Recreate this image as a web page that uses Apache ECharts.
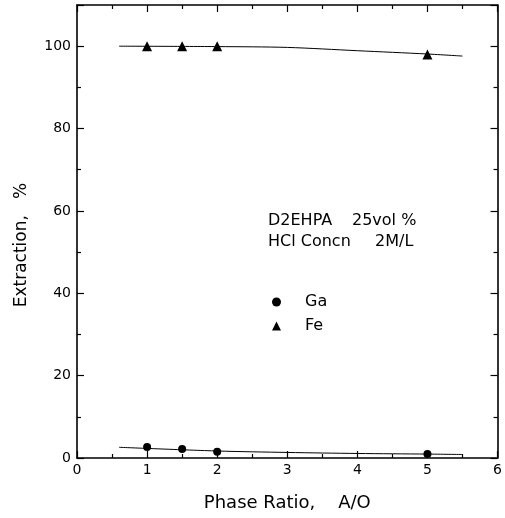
<!DOCTYPE html>
<html>
<head>
<meta charset="utf-8">
<script src="https://cdn.jsdelivr.net/npm/echarts@6/dist/echarts.min.js"></script>
<style>
html,body{margin:0;padding:0;background:#fff;}
#chart{width:505px;height:518px;}
</style>
</head>
<body>
<div id="chart"></div>
<script>
// Measured points
var gaX = [1, 1.5, 2, 5];
var gaY = [2.7, 2.2, 1.5, 1.0];
var feX = [1, 1.5, 2, 5];
var feY = [100, 100, 100, 98];
// Fitted curves
var fitX = [0.6, 2, 3, 4, 5, 5.5];
var gaFit = [2.6, 1.7, 1.35, 1.1, 0.95, 0.85];
var feFit = [100, 99.9, 99.7, 98.9, 98.1, 97.6];
// Axis settings
var xTicks = [0, 1, 2, 3, 4, 5, 6];
var yTicks = [0, 20, 40, 60, 80, 100];

function pairs(xs, ys){ return xs.map(function(x,i){ return [x, ys[i]]; }); }

var FONT = 'DejaVu Sans';
var chart = echarts.init(document.getElementById('chart'), null, {renderer:'canvas'});
var axisCommon = {
  axisLine: {show: true, onZero: false, lineStyle: {color: '#000', width: 1.6}},
  axisTick: {show: true, inside: true, length: 7, lineStyle: {color: '#000', width: 1.2}},
  minorTick: {show: true, splitNumber: 2, length: 4, lineStyle: {color: '#000', width: 1.2}},
  splitLine: {show: false},
  minorSplitLine: {show: false}
};
var option = {
  backgroundColor: '#fff',
  animation: false,
  grid: {left: 77, right: 7, top: 5, bottom: 60, containLabel: false},
  xAxis: [
    Object.assign({
      type: 'value', min: xTicks[0], max: xTicks[xTicks.length-1], interval: 1, position: 'bottom',
      name: 'Phase Ratio,    A/O', nameLocation: 'middle', nameGap: 36,
      nameTextStyle: {fontFamily: FONT, fontSize: 18, color: '#000'},
      axisLabel: {margin: 5, fontFamily: FONT, fontSize: 14, color: '#000'}
    }, axisCommon),
    Object.assign({
      type: 'value', min: xTicks[0], max: xTicks[xTicks.length-1], interval: 1, position: 'top',
      axisLabel: {show: false}
    }, axisCommon)
  ],
  yAxis: [
    Object.assign({
      type: 'value', min: 0, max: 110, interval: 20, position: 'left',
      name: 'Extraction,   %', nameLocation: 'middle', nameGap: 47,
      nameTextStyle: {fontFamily: FONT, fontSize: 17, color: '#000', padding: [0, 27, 0, 0]},
      axisLabel: {margin: 6, fontFamily: FONT, fontSize: 14, color: '#000',
        formatter: function(v){ return yTicks.indexOf(v) >= 0 ? String(v) : ''; }}
    }, axisCommon),
    Object.assign({
      type: 'value', min: 0, max: 110, interval: 20, position: 'right',
      axisLabel: {show: false}
    }, axisCommon)
  ],
  legend: {
    show: true, orient: 'vertical', left: 267, top: 289,
    itemWidth: 9, itemHeight: 9, itemGap: 8,
    data: [{name: 'Ga', icon: 'circle'}, {name: 'Fe', icon: 'triangle'}],
    itemStyle: {opacity: 1},
    textStyle: {fontFamily: FONT, fontSize: 16, color: '#000', lineHeight: 16, padding: [0, 0, 0, 19]}
  },
  graphic: [
    {type: 'text', left: 268, top: 213, style: {text: 'D2EHPA', font: '16px "DejaVu Sans"', fill: '#000'}},
    {type: 'text', left: 352, top: 213, style: {text: '25vol %', font: '16px "DejaVu Sans"', fill: '#000'}},
    {type: 'text', left: 268, top: 234, style: {text: 'HCl Concn', font: '16px "DejaVu Sans"', fill: '#000'}},
    {type: 'text', left: 375, top: 234, style: {text: '2M/L', font: '16px "DejaVu Sans"', fill: '#000'}}
  ],
  series: [
    {name: 'Ga fit', type: 'line', data: pairs(fitX, gaFit), showSymbol: false, smooth: 0.3,
     lineStyle: {color: '#000', width: 1}, silent: true, z: 2},
    {name: 'Fe fit', type: 'line', data: pairs(fitX, feFit), showSymbol: false, smooth: 0.3,
     lineStyle: {color: '#000', width: 1}, silent: true, z: 2},
    {name: 'Ga', type: 'scatter', data: pairs(gaX, gaY), symbol: 'circle', symbolSize: 8,
     itemStyle: {color: '#000', opacity: 1}, z: 3},
    {name: 'Fe', type: 'scatter', data: pairs(feX, feY), symbol: 'triangle', symbolSize: 10,
     itemStyle: {color: '#000', opacity: 1}, z: 3}
  ]
};
chart.setOption(option);
</script>
</body>
</html>
